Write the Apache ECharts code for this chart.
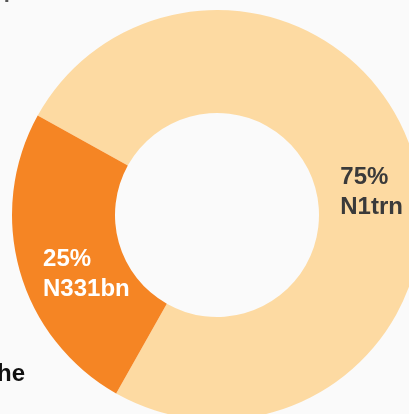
<!DOCTYPE html>
<html>
<head>
<meta charset="utf-8">
<script src="https://cdn.jsdelivr.net/npm/echarts@6/dist/echarts.min.js"></script>
<style>
  html, body { margin: 0; padding: 0; background: #fafafa; }
  #main { width: 409px; height: 414px; }
</style>
</head>
<body>
<div id="main"></div>
<script>
// values in bn
const names = ["N1trn", "N331bn"];
const values = [1000, 331];
const colors = ["#fddaa2", "#f58524"];
const labelColors = ["#3a3a3a", "#ffffff"];

const chart = echarts.init(document.getElementById("main"));
const font = "'Liberation Sans', Arial, sans-serif";

// nudges so the labels sit where the original put them
const labelNudge = [[4, 20], [20, 17]];

const option = {
  backgroundColor: "#fafafa",
  animation: false,
  graphic: [
    {
      // title cut off at the top, only the bottom of it shows
      type: "text",
      left: 3,
      top: -31,
      style: { text: "ports", fontSize: 34, fontFamily: font, fill: "#555" }
    },
    {
      type: "text",
      x: 25,
      y: 374,
      style: {
        text: "the",
        fontSize: 24,
        fontWeight: "bold",
        fontFamily: font,
        fill: "#111",
        align: "right",
        verticalAlign: "middle"
      }
    }
  ],
  series: [
    {
      type: "pie",
      center: [217, 215],
      radius: [102, 205],
      startAngle: 151,
      clockwise: true,
      avoidLabelOverlap: false,
      silent: true,
      label: {
        show: true,
        position: "inside",
        align: "left",
        fontFamily: font,
        fontSize: 24,
        fontWeight: "bold",
        lineHeight: 30,
        formatter: (p) => "{t|" + Math.round(p.percent) + "%}\n{t|" + p.name + "}",
        rich: {
          t: {
            align: "left",
            fontFamily: font,
            fontSize: 24,
            fontWeight: "bold",
            lineHeight: 30
          }
        }
      },
      labelLine: { show: false },
      data: names.map((n, i) => ({
        name: n,
        value: values[i],
        itemStyle: { color: colors[i] },
        label: { color: labelColors[i], offset: labelNudge[i] }
      }))
    }
  ]
};
chart.setOption(option);
</script>
</body>
</html>
